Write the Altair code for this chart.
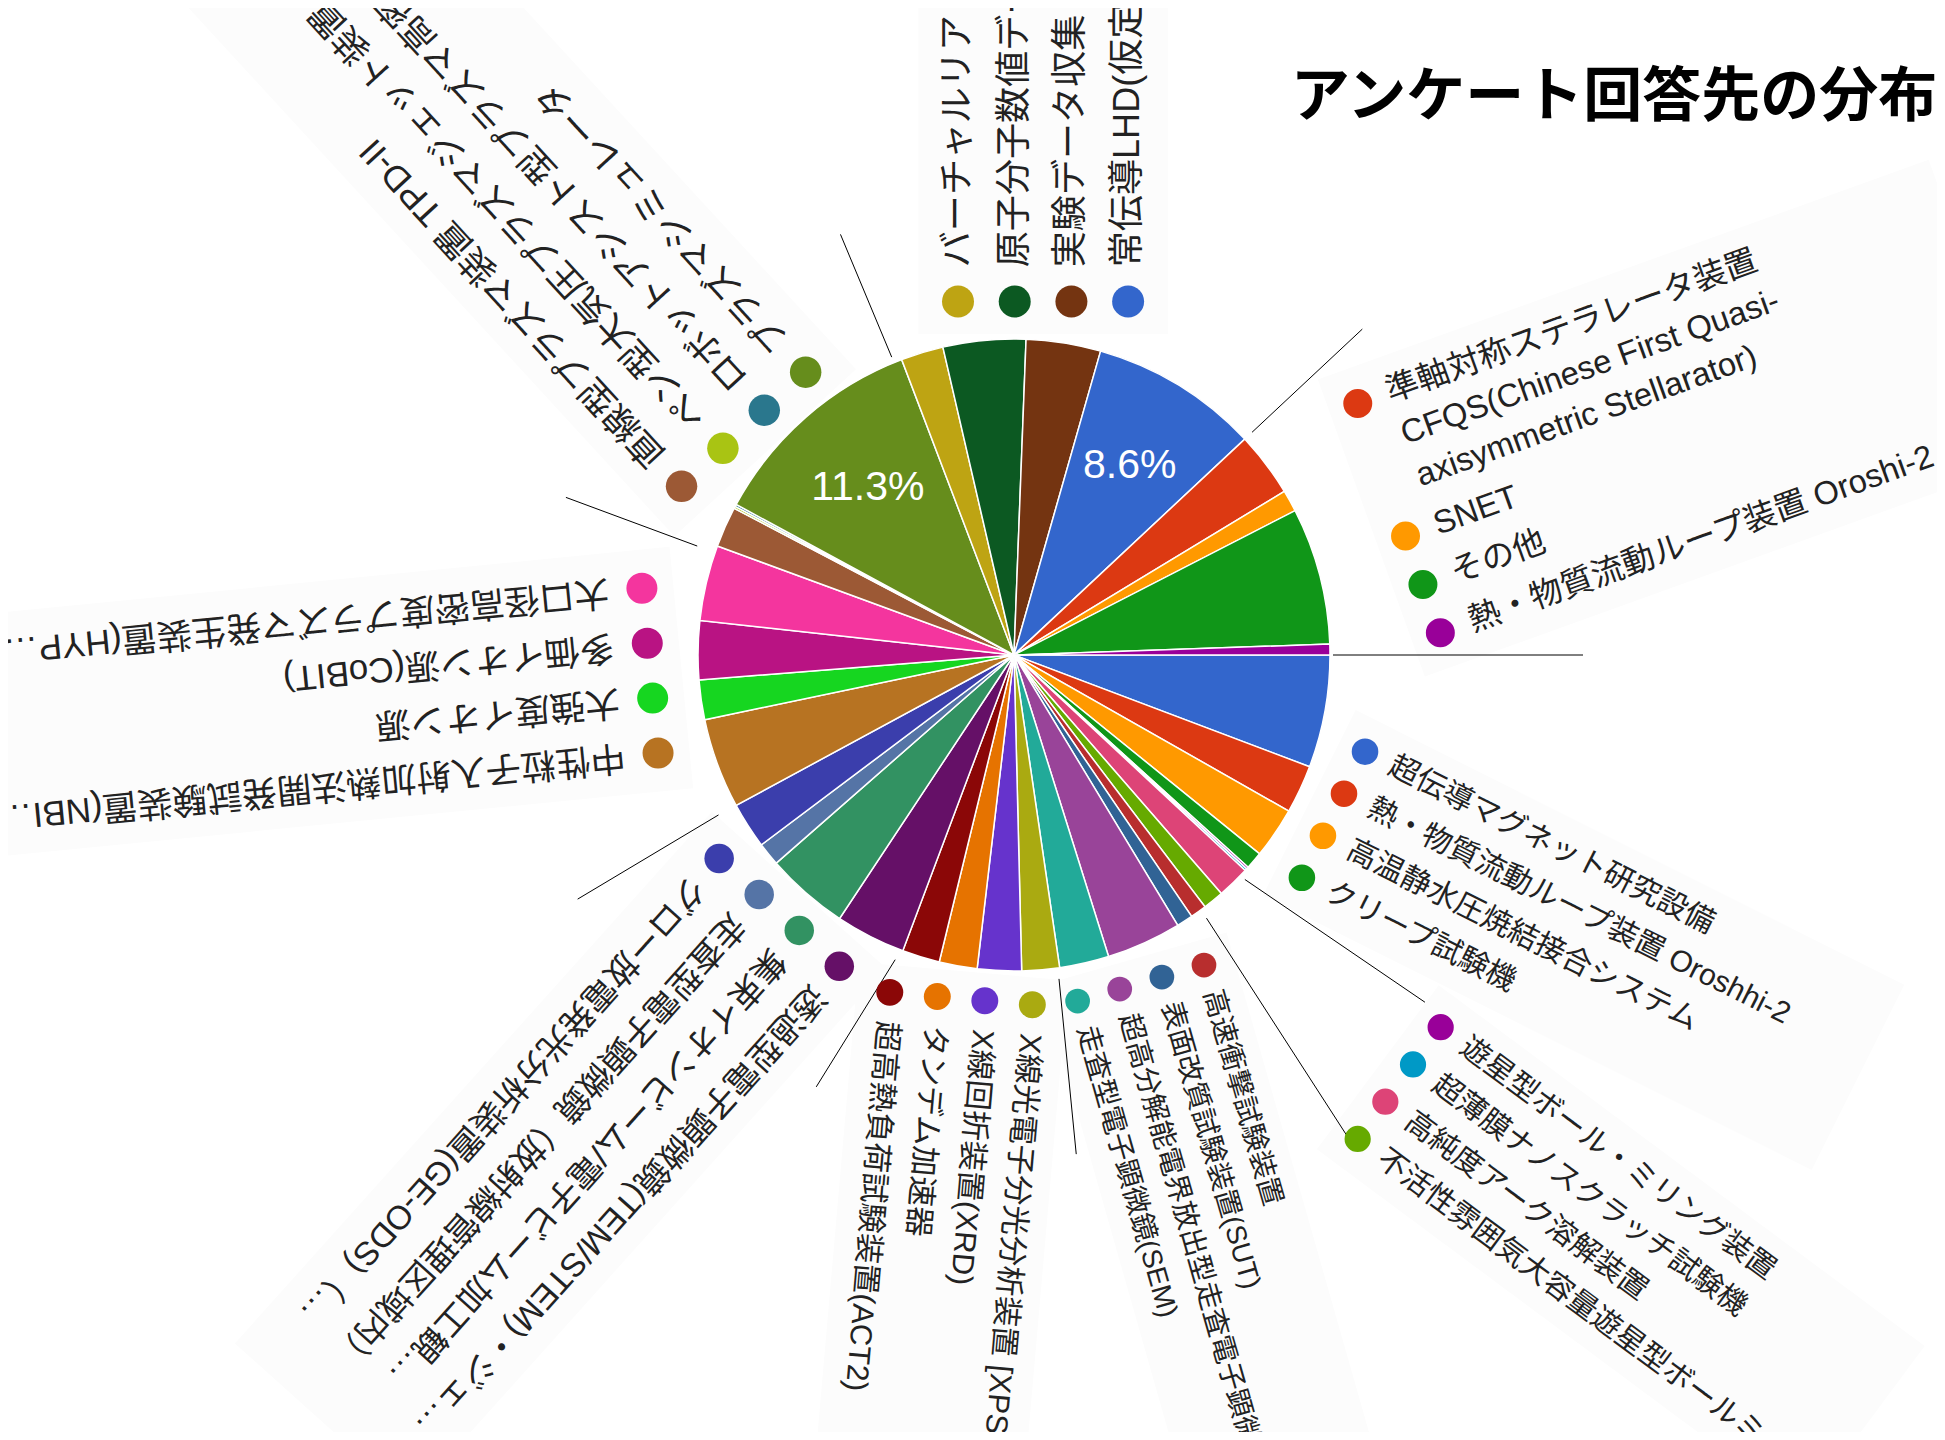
import math
import altair as alt
import pandas as pd

# ---------------- data ----------------
names = [
    "超伝導マグネット研究設備",
    "熱・物質流動ループ装置 Oroshhi-2",
    "高温静水圧焼結接合システム",
    "クリープ試験機",
    "遊星型ボール・ミリング装置",
    "超薄膜ナノスクラッチ試験機",
    "高純度アーク溶解装置",
    "不活性雰囲気大容量遊星型ボールミル",
    "高速衝撃試験装置",
    "表面改質試験装置(SUT)",
    "超高分解能電界放出型走査電子顕微鏡",
    "走査型電子顕微鏡(SEM)",
    "X線光電子分光分析装置 [XPS(…",
    "X線回折装置(XRD)",
    "タンデム加速器",
    "超高熱負荷試験装置(ACT2)",
    "透過型電子顕微鏡(TEM/STEM)・ジェ…",
    "集束イオンビーム/電子ビーム加工観…",
    "走査型電子顕微鏡（放射線管理区域内）",
    "グロー放電発光分析装置(GE-ODS)（…",
    "中性粒子入射加熱法開発試験装置(NBI…",
    "大強度イオン源",
    "多価イオン源(CoBIT)",
    "大口径高密度プラズマ発生装置(HYP…",
    "直線型プラズマ装置 TPD-II",
    "ペン型大気圧プラズマジェット装置",
    "ロボットアシスト型プラズマ高密度処理装置",
    "プラズマシミュレータ",
    "バーチャルリアリティ…",
    "原子分子数値データベース…",
    "実験データ収集・解析…",
    "常伝導LHD(仮定)…",
    "準軸対称ステラレータ装置 CFQS(Chinese First Quasi-axisymmetric Stellarator)",
    "SNET",
    "その他",
    "熱・物質流動ループ装置 Oroshi-2",
]

# share of answers (%)
values = [
    5.75, 2.47, 2.61, 0.89,
    0.11, 0.11, 1.67, 1.06,
    0.83, 0.83, 3.83, 2.53,
    1.92, 2.25, 1.94, 1.92,
    3.58, 4.25, 1.19, 2.36,
    4.61, 2.03, 3.00, 3.86,
    2.08, 0.11, 0.11, 11.31,
    2.17, 4.22, 3.81, 8.61,
    3.31, 1.11, 7.00, 0.55,
]

colors = [
    "#3366cc", "#dc3912", "#ff9900", "#109618", "#990099", "#0099c6",
    "#dd4477", "#66aa00", "#b82e2e", "#316395", "#994499", "#22aa99",
    "#aaaa11", "#6633cc", "#e67300", "#8b0707", "#651067", "#329262",
    "#5574a6", "#3b3eac", "#b77322", "#16d620", "#b91383", "#f4359e",
    "#9c5935", "#a9c413", "#2a778d", "#668d1c", "#bea413", "#0c5922",
    "#743411", "#3366cc", "#dc3912", "#ff9900", "#109618", "#990099",
]

# legend entries that wrap onto several lines
wrapped = {
    32: ["準軸対称ステラレータ装置", "CFQS(Chinese First Quasi-", "axisymmetric Stellarator)"],
}

title_text = "アンケート回答先の分布"

# ---------------- layout ----------------
W, H = 1929, 1424
CX, CY, R = 1006, 647, 316
START = 90.0  # pie starts at 3 o'clock
FONT = "Liberation Sans, Noto Sans CJK JP, sans-serif"

# per legend group: anchor angle, anchor radius, rotation, font size, item spacing
groups = [
    (105.4, 364.1, 26.6, 30.0, 47.0),
    (131.1, 566.2, 36.6, 29.6, 46.4),
    (148.5, 363.6, 74.1, 27.9, 43.8),
    (177.0, 350.3, 95.0, 30.4, 47.7),
    (209.3, 357.0, 131.9, 33.3, 53.8),
    (254.6, 369.2, 174.4, 35.0, 55.2),
    (296.9, 372.8, 227.4, 35.5, 56.2),
    (351.0, 357.9, 270.0, 36.1, 56.7),
    (53.8, 426.0, 340.2, 32.7, 51.4),
]
# separator after each group: start-angle offset, end-angle offset, r start, r end
seps = [
    (2.0, -2.0, 322, 538),
    (1.0, 2.5, 326, 592),
    (0.4, 1.2, 327, 503),
    (0.7, 4.0, 327, 475),
    (0.0, -0.8, 336, 500),
    (-1.2, -0.8, 335, 475),
    (-1.5, -1.6, 322, 455),
    (0.0, 0.0, 326, 477),
    (0.0, 0.0, 319, 569),
]

total = sum(values)
pie = pd.DataFrame({
    "idx": list(range(len(names))),
    "name": names,
    "value": values,
})
pie["label"] = [
    f"{v / total * 100:.1f}%" if v / total >= 0.08 else "" for v in values
]


def polar(ang_deg, r):
    a = math.radians(ang_deg)
    return CX + r * math.sin(a), CY - r * math.cos(a)


def text_len(s, f):
    return sum(f if ord(c) > 0x2E80 else 0.6 * f for c in s)


# legend dots, texts and faint legend panels
dot_rows, text_rows, panel_rows = [], [], []
for gi, (phi, rho, rot, f, sp) in enumerate(groups):
    ax, ay = polar(phi, rho)
    th = math.radians(rot)
    tx, ty = math.cos(th), math.sin(th)
    dx, dy = -math.sin(th), math.cos(th)
    step = 0.0
    last = 0.0
    longest = 0.0
    for k in range(4):
        i = gi * 4 + k
        lines = wrapped.get(i, [names[i]])
        px, py = ax + step * dx, ay + step * dy
        dot_rows.append({"x": px, "y": py, "name": names[i], "sz": math.pi * (f / 2) ** 2})
        for j, ln in enumerate(lines):
            lx = px + j * 1.37 * f * dx + 0.95 * f * tx
            ly = py + j * 1.37 * f * dy + 0.95 * f * ty
            text_rows.append({"x": lx, "y": ly, "t": ln, "ang": rot % 360, "fs": f})
            longest = max(longest, text_len(ln, f))
        last = step + (len(lines) - 1) * 1.37 * f
        step = last + sp
    mid = last / 2
    t0, t1 = -0.9 * f, 0.95 * f + longest + 1.6 * f
    panel_rows.append({
        "x": ax + mid * dx + t0 * tx, "y": ay + mid * dy + t0 * ty,
        "x2": ax + mid * dx + t1 * tx, "y2": ay + mid * dy + t1 * ty,
        "w": last + 2.2 * f,
    })
dots = pd.DataFrame(dot_rows)
texts = pd.DataFrame(text_rows)
panels = pd.DataFrame(panel_rows)

# separators at group boundaries
cum = 0.0
bounds = []
for i, v in enumerate(values):
    cum += v
    if i % 4 == 3:
        bounds.append(START + cum / total * 360.0)
sep_rows = []
for b, (o1, o2, r1, r2) in zip(bounds, seps):
    x1, y1 = polar(b + o1, r1)
    x2, y2 = polar(b + o2, r2)
    sep_rows.append({"x": x1, "y": y1, "x2": x2, "y2": y2})
sepdf = pd.DataFrame(sep_rows)

color_scale = alt.Scale(domain=names, range=colors)
theta_scale = alt.Scale(range=[math.radians(START), math.radians(START) + 2 * math.pi])

panel_marks = alt.Chart(panels).mark_rule(color="#fcfcfc", strokeCap="butt").encode(
    x=alt.X("x:Q", scale=None, axis=None),
    y=alt.Y("y:Q", scale=None, axis=None),
    x2="x2:Q",
    y2="y2:Q",
    strokeWidth=alt.StrokeWidth("w:Q", scale=None, legend=None),
)

arcs = alt.Chart(pie).mark_arc(radius=R, stroke="white", strokeWidth=1.5).encode(
    theta=alt.Theta("value:Q", stack=True, scale=theta_scale),
    color=alt.Color("name:N", scale=color_scale, legend=None),
    order=alt.Order("idx:Q"),
    x=alt.value(CX),
    y=alt.value(CY),
)

pct = alt.Chart(pie).mark_text(
    radius=222, fontSize=41, color="white", font=FONT
).encode(
    theta=alt.Theta("value:Q", stack=True, scale=theta_scale),
    detail="name:N",
    order=alt.Order("idx:Q"),
    text="label:N",
    x=alt.value(CX),
    y=alt.value(CY),
)

rules = alt.Chart(sepdf).mark_rule(color="black", strokeWidth=1).encode(
    x=alt.X("x:Q", scale=None, axis=None),
    y=alt.Y("y:Q", scale=None, axis=None),
    x2="x2:Q",
    y2="y2:Q",
)

dmarks = alt.Chart(dots).mark_circle(opacity=1).encode(
    x=alt.X("x:Q", scale=None, axis=None),
    y=alt.Y("y:Q", scale=None, axis=None),
    color=alt.Color("name:N", scale=color_scale, legend=None),
    size=alt.Size("sz:Q", scale=None, legend=None),
)

tmarks = alt.Chart(texts).mark_text(
    align="left", baseline="middle", color="#222222", font=FONT
).encode(
    x=alt.X("x:Q", scale=None, axis=None),
    y=alt.Y("y:Q", scale=None, axis=None),
    text="t:N",
    angle=alt.Angle("ang:Q", scale=None),
    size=alt.Size("fs:Q", scale=None, legend=None),
)

title = alt.Chart(pd.DataFrame({"t": [title_text]})).mark_text(
    fontSize=59, fontWeight="bold", color="black", font="Noto Sans CJK JP",
    align="center", baseline="middle",
).encode(
    text="t:N",
    x=alt.value(1606),
    y=alt.value(90),
)

chart = alt.layer(panel_marks, arcs, pct, rules, dmarks, tmarks, title).properties(
    width=W, height=H, padding=0,
    autosize=alt.AutoSizeParams(type="none"),
).configure_view(stroke=None)

chart.save("out.html", embed_options={"renderer": "svg", "actions": False})
